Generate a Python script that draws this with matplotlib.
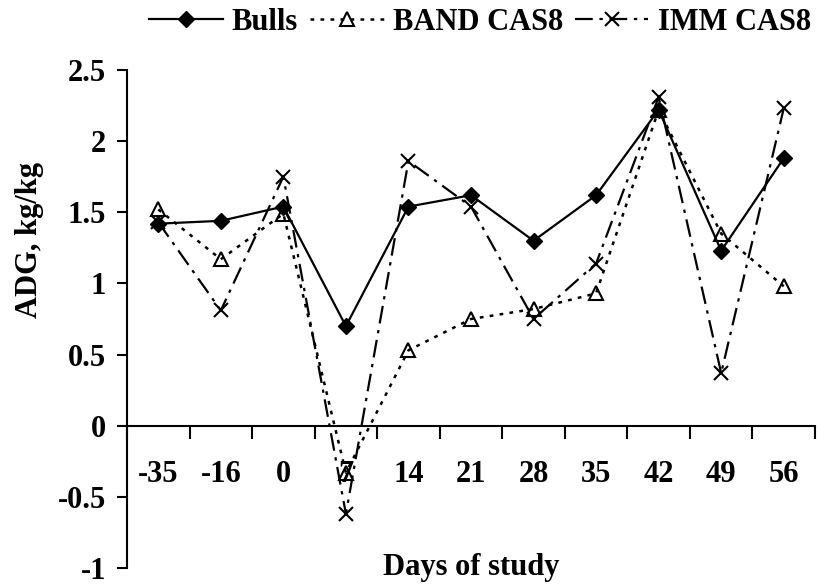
import matplotlib
matplotlib.use("Agg")
import matplotlib.pyplot as plt
from matplotlib.ticker import FixedLocator

days = ["-35", "-16", "0", "7", "14", "21", "28", "35", "42", "49", "56"]
bulls = [1.42, 1.44, 1.54, 0.70, 1.54, 1.62, 1.30, 1.62, 2.22, 1.23, 1.88]
band_cas8 = [1.52, 1.17, 1.49, -0.33, 0.53, 0.75, 0.82, 0.93, 2.22, 1.35, 0.98]
imm_cas8 = [1.43, 0.81, 1.75, -0.62, 1.86, 1.54, 0.75, 1.14, 2.31, 0.37, 2.23]

plt.rcParams['font.family'] = ['Liberation Serif', 'DejaVu Serif']
plt.rcParams['font.weight'] = 'bold'
fs = 22

fig = plt.figure(figsize=(8.22, 5.85), dpi=100)
ax = fig.add_axes([127/822, 1-568/585, (815-127)/822, (568-70)/585])

x = list(range(len(days)))
ax.plot(x, bulls, color="black", lw=1.6, marker="D", markersize=8,
        markerfacecolor="black", label="Bulls")
ax.plot(x, band_cas8, color="black", lw=1.8, linestyle=(0, (1.5, 2.5)), marker="^",
        markersize=10, markerfacecolor="none", markeredgewidth=1.5, label="BAND CAS8")
ax.plot(x, imm_cas8, color="black", lw=1.6, linestyle=(0, (8, 3, 1.5, 3)), marker="x",
        markersize=10, markeredgewidth=1.5, label="IMM CAS8")

ax.set_xlim(-0.5, len(days) - 0.5)
ax.set_ylim(-1, 2.5)
ax.set_yticks([-1, -0.5, 0, 0.5, 1, 1.5, 2, 2.5])
ax.set_yticklabels(["-1", "-0.5", "0", "0.5", "1", "1.5", "2", "2.5"])

# category labels centered, tick marks between categories
ax.set_xticks(x)
ax.set_xticklabels(days)
ax.xaxis.set_minor_locator(FixedLocator([i - 0.5 for i in range(len(days) + 1)]))
ax.tick_params(axis="x", which="major", length=0, pad=25, labelsize=fs)
ax.tick_params(axis="x", which="minor", length=9, width=1.5, direction="out")
ax.tick_params(axis="y", length=7, width=1.5, direction="out", pad=8, labelsize=fs)

ax.spines["bottom"].set_position(("data", 0))
ax.spines["top"].set_visible(False)
ax.spines["right"].set_visible(False)
ax.spines["left"].set_linewidth(1.5)
ax.spines["bottom"].set_linewidth(1.5)

ax.text(0.5, 0.0, "Days of study", transform=ax.transAxes, ha="center", va="center",
        fontsize=fs, fontweight="bold")
fig.text(30/822, 1-240/585, "ADG, kg/kg", rotation=90, ha="center", va="center",
         fontsize=fs, fontweight="bold")

fig.legend(loc="center", bbox_to_anchor=(480/822, 1-22/585), ncol=3, frameon=False,
           fontsize=fs, handlelength=2.4, columnspacing=0.4, handletextpad=0.3)

plt.savefig("out.png")
